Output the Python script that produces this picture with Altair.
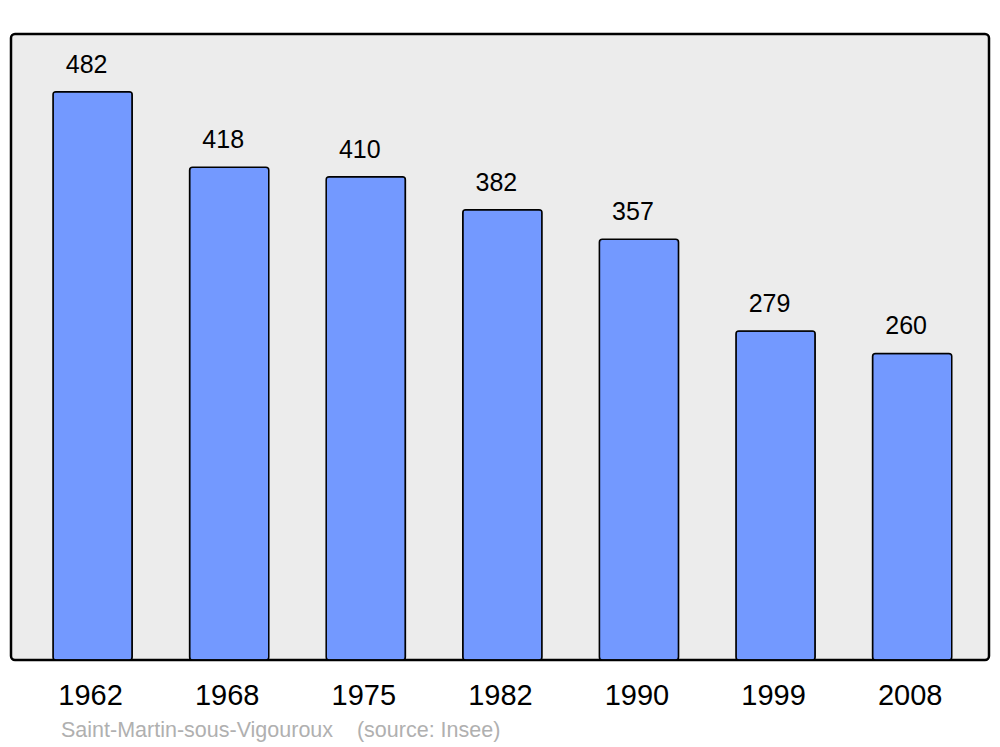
import altair as alt
import pandas as pd

years = ["1962", "1968", "1975", "1982", "1990", "1999", "2008"]
population = [482, 418, 410, 382, 357, 279, 260]
footer = "Saint-Martin-sous-Vigouroux\u00a0\u00a0\u00a0\u00a0(source: Insee)"

df = pd.DataFrame({"year": years, "pop": population})

FONT = "Liberation Sans"

x = alt.X("year:N", sort=years, title=None,
          scale=alt.Scale(paddingInner=0.42, paddingOuter=0.29, align=0.53),
          axis=alt.Axis(ticks=False, domain=False, labelAngle=0, labelFont=FONT,
                        labelFontSize=29, labelColor="black", labelPadding=44,
                        labelOffset=-2,
                        labelBaseline="alphabetic", grid=False))
y = alt.Y("pop:Q", title=None, scale=alt.Scale(domain=[0, 531], nice=False),
          axis=None)

bars = alt.Chart(df).mark_bar(
    fill="#7399ff", stroke="black", strokeWidth=1.5, cornerRadius=3
).encode(x=x, y=y)

labels = alt.Chart(df).mark_text(
    font=FONT, fontSize=25, color="black", baseline="alphabetic", dy=-19, dx=-6
).encode(x=alt.X("year:N", sort=years), y="pop:Q", text="pop:Q")

chart = (bars + labels).properties(
    width=978, height=626,
    padding={"left": 3, "top": 26, "right": 3, "bottom": 90},
    autosize=alt.AutoSizeParams(type="none"),
    title=alt.TitleParams(text=footer, orient="bottom", anchor="start",
                          font=FONT, fontSize=21.5, fontWeight="normal",
                          color="#b0b0b0", offset=10, dx=50),
).configure(background="white").configure_view(
    fill="#ececec", stroke="black", strokeWidth=2.5, cornerRadius=4
)

chart.save("out.html", embed_options={"renderer": "svg", "actions": False})
